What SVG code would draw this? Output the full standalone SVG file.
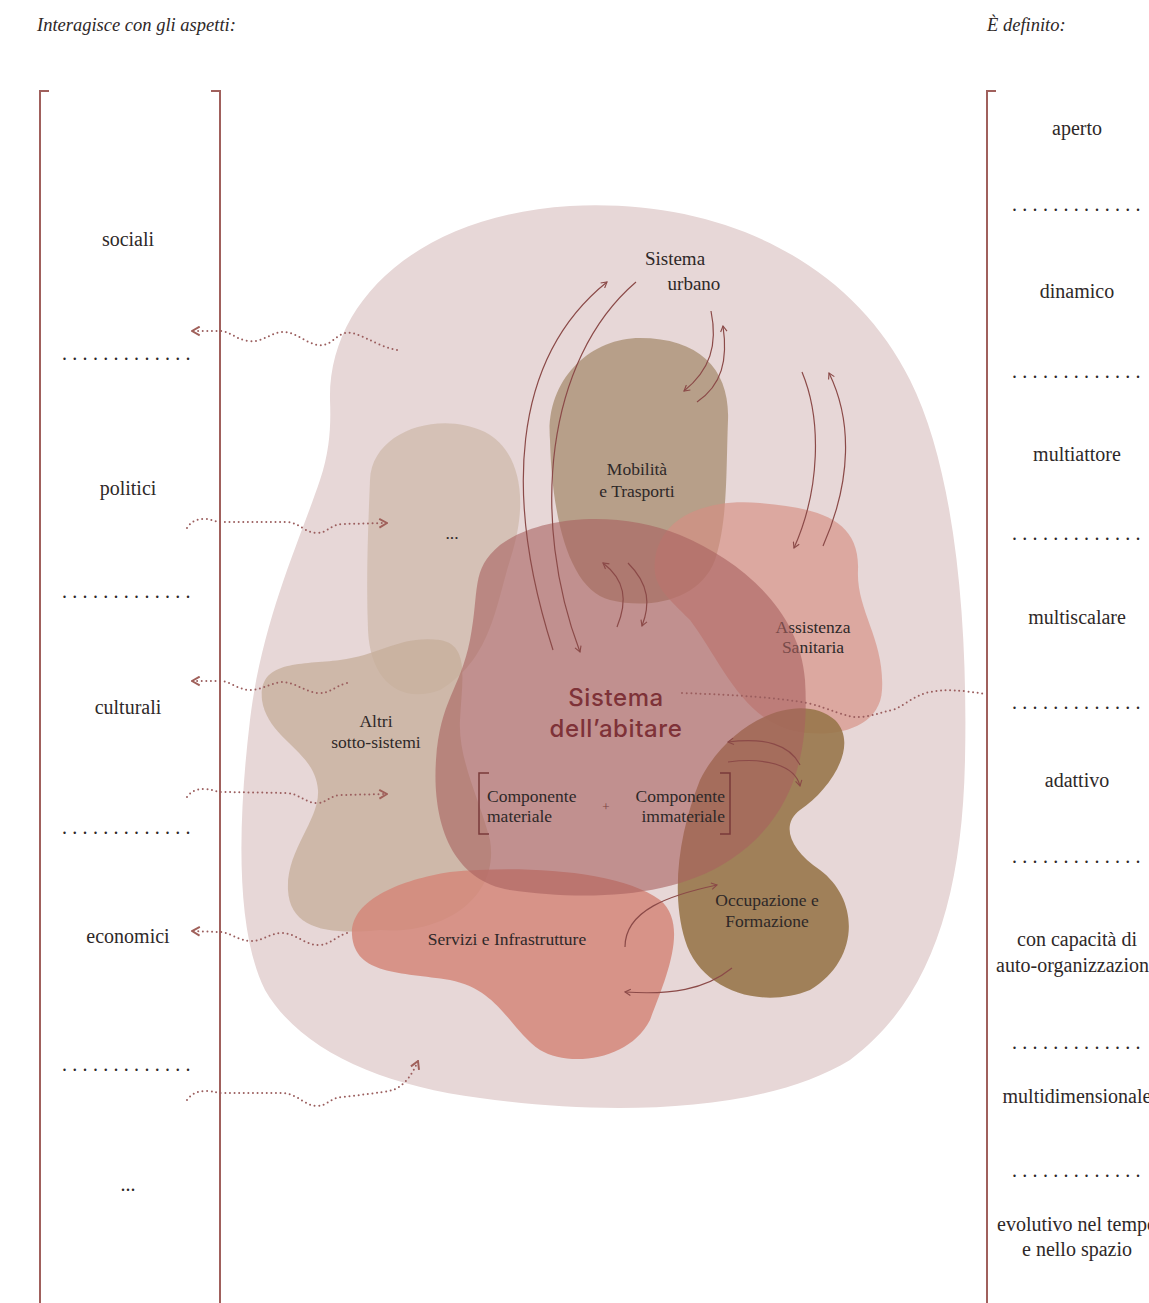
<svg xmlns="http://www.w3.org/2000/svg" width="1149" height="1303" viewBox="0 0 1149 1303">
<style>
.t{font-family:"Liberation Serif","DejaVu Serif",serif;fill:#2e2828}
.col{font-size:20px;text-anchor:middle}
.dots{font-size:20px;letter-spacing:5.3px}
.hd{font-size:18.5px;font-style:italic}
.nl{font-size:17.5px;text-anchor:middle}
.main{font-family:Inter,"Noto Sans",sans-serif;font-size:24px;font-weight:500;fill:#7e3238;text-anchor:middle;letter-spacing:0.6px}
.br{fill:none;stroke:#a0605c;stroke-width:2}
.ib{fill:none;stroke:#7a3a3a;stroke-width:1.5}
.sa{fill:none;stroke:#8b4a48;stroke-width:1.2;marker-end:url(#ah)}
.da{fill:none;stroke:#9b5e5e;stroke-width:2;stroke-dasharray:0 4.6;stroke-linecap:round}
</style>
<defs>
<marker id="ah" viewBox="0 0 10 10" refX="9" refY="5" markerWidth="8" markerHeight="8" markerUnits="userSpaceOnUse" orient="auto">
<path d="M2,1 L9,5 L2,9" fill="none" stroke="#8b4a48" stroke-width="1.4"/>
</marker>
<marker id="dh" viewBox="0 0 10 10" refX="9" refY="5" markerWidth="11" markerHeight="11" markerUnits="userSpaceOnUse" orient="auto">
<path d="M2,1 L9,5 L2,9" fill="none" stroke="#a0605a" stroke-width="1.8"/>
</marker>
</defs>
<rect width="1149" height="1303" fill="#ffffff"/>

<g id="headers">
<text class="t hd" x="37" y="31">Interagisce con gli aspetti:</text>
<text class="t hd" x="987" y="31">È definito:</text>
</g>

<g id="brackets">
<path class="br" d="M49,91 L40,91 L40,1303"/>
<path class="br" d="M211,91 L220,91 L220,1303"/>
<path class="br" d="M996,91 L987,91 L987,1303"/>
</g>

<g id="left-column">
<text class="t col" x="128" y="246">sociali</text>
<text class="t dots" x="62" y="360">.............</text>
<text class="t col" x="128" y="495">politici</text>
<text class="t dots" x="62" y="598">.............</text>
<text class="t col" x="128" y="714">culturali</text>
<text class="t dots" x="62" y="834">.............</text>
<text class="t col" x="128" y="943">economici</text>
<text class="t dots" x="62" y="1071">.............</text>
<text class="t col" x="128" y="1191">...</text>
</g>

<g id="right-column">
<text class="t col" x="1077" y="135">aperto</text>
<text class="t dots" x="1012" y="211">.............</text>
<text class="t col" x="1077" y="298">dinamico</text>
<text class="t dots" x="1012" y="378">.............</text>
<text class="t col" x="1077" y="461">multiattore</text>
<text class="t dots" x="1012" y="540">.............</text>
<text class="t col" x="1077" y="624">multiscalare</text>
<text class="t dots" x="1012" y="709">.............</text>
<text class="t col" x="1077" y="787">adattivo</text>
<text class="t dots" x="1012" y="863">.............</text>
<text class="t col" x="1077" y="946">con capacità di</text>
<text class="t col" x="1077" y="972">auto-organizzazione</text>
<text class="t dots" x="1012" y="1049">.............</text>
<text class="t col" x="1077" y="1103">multidimensionale</text>
<text class="t dots" x="1012" y="1177">.............</text>
<text class="t col" x="1077" y="1231">evolutivo nel tempo</text>
<text class="t col" x="1077" y="1256">e nello spazio</text>
</g>

<g id="sistema-urbano">
<path d="M330,400 C328,300 420,215 570,206 C720,198 850,260 910,380 C955,470 968,620 965,760 C962,900 930,1000 850,1060 C760,1115 600,1115 480,1098 C380,1085 300,1050 265,990 C235,930 238,820 250,720 C262,620 300,540 320,480 C330,450 331,425 330,400 Z" fill="#e7d7d7"/>
<text class="t nl" x="675" y="265" style="font-size:19px">Sistema</text>
<text class="t nl" x="694" y="290" style="font-size:19px">urbano</text>
</g>

<g id="altro">
<path d="M370,480 C372,430 440,410 485,432 C520,450 530,500 510,560 C495,610 490,660 440,690 C400,705 370,680 368,630 C366,580 368,530 370,480 Z" fill="#cdb8a8" fill-opacity="0.7"/>
<text class="t nl" x="452" y="539">...</text>
</g>

<g id="altri-sotto-sistemi">
<path d="M262,700 C258,660 300,665 340,660 C380,655 400,635 440,640 C470,645 462,680 460,720 C458,760 480,800 490,840 C500,900 440,935 380,930 C330,935 290,930 288,890 C286,850 320,820 318,790 C315,750 268,740 262,700 Z" fill="#c6ae9a" fill-opacity="0.75"/>
<text class="t nl" x="376" y="727">Altri</text>
<text class="t nl" x="376" y="748">sotto-sistemi</text>
</g>

<g id="mobilita">
<path d="M550,440 C545,380 590,338 640,338 C700,338 730,370 728,420 C726,470 728,520 715,560 C700,600 650,610 610,600 C570,590 552,520 550,440 Z" fill="#b49c85" fill-opacity="0.95"/>
<text class="t nl" x="637" y="475">Mobilità</text>
<text class="t nl" x="637" y="497">e Trasporti</text>
</g>

<g id="assistenza">
<path d="M655,560 C660,515 710,498 760,503 C820,508 860,520 858,570 C856,610 885,640 882,690 C880,730 830,740 790,730 C740,715 720,660 690,620 C665,595 652,585 655,560 Z" fill="#d68f82" fill-opacity="0.65"/>
<text class="t nl" x="813" y="633">Assistenza</text>
<text class="t nl" x="813" y="653">Sanitaria</text>
</g>

<g id="occupazione">
<path d="M700,780 C730,720 800,690 835,720 C860,745 830,790 800,810 C780,825 790,850 820,870 C860,900 860,960 810,990 C760,1010 700,990 685,940 C670,890 680,830 700,780 Z" fill="#967448" fill-opacity="0.88"/>
<text class="t nl" x="767" y="906">Occupazione e</text>
<text class="t nl" x="767" y="927">Formazione</text>
</g>

<g id="servizi">
<path d="M352,935 C350,900 400,880 450,872 C520,865 620,870 660,900 C690,925 665,980 650,1020 C630,1060 570,1068 540,1050 C510,1030 500,990 450,980 C400,972 355,975 352,935 Z" fill="#d3877a" fill-opacity="0.85"/>
<text class="t nl" x="507" y="945">Servizi e Infrastrutture</text>
</g>

<g id="sistema-abitare">
<path d="M500,545 C540,515 620,510 680,535 C740,560 800,610 805,680 C810,760 790,820 730,860 C670,900 580,900 510,890 C450,880 432,820 436,760 C440,700 460,690 470,640 C480,590 470,570 500,545 Z" fill="#a8605f" fill-opacity="0.6"/>
<text class="main" x="616" y="706">Sistema</text>
<text class="main" x="616" y="737">dell’abitare</text>
<path class="ib" d="M489,773 L479,773 L479,834 L489,834"/>
<path class="ib" d="M720,773 L730,773 L730,834 L720,834"/>
<text class="t" x="487" y="802" style="font-size:17.5px">Componente</text>
<text class="t" x="487" y="822" style="font-size:17.5px">materiale</text>
<text class="t" x="606" y="811" style="font-size:13px;text-anchor:middle;fill:#7a4040">+</text>
<text class="t" x="725" y="802" style="font-size:17.5px;text-anchor:end">Componente</text>
<text class="t" x="725" y="822" style="font-size:17.5px;text-anchor:end">immateriale</text>
</g>

<g id="connectors">
<path class="sa" d="M553,650 C505,500 510,360 607,282"/>
<path class="sa" d="M636,282 C545,360 530,520 580,652"/>
<path class="sa" d="M711,311 C718,345 710,370 684,391"/>
<path class="sa" d="M697,402 C722,385 728,360 723,326"/>
<path class="sa" d="M802,372 C822,420 820,490 794,548"/>
<path class="sa" d="M823,546 C852,480 852,420 829,373"/>
<path class="sa" d="M617,627 C628,600 625,580 603,563"/>
<path class="sa" d="M628,563 C650,585 650,605 642,626"/>
<path class="sa" d="M800,765 C790,745 765,737 728,742"/>
<path class="sa" d="M728,762 C765,757 795,765 800,786"/>
<path class="sa" d="M625,947 C625,910 670,895 717,885"/>
<path class="sa" d="M732,968 C705,990 670,995 625,992"/>

<path class="da" marker-end="url(#dh)" d="M397,350 C375,346 357,330 345,333 C335,336 330,347 318,345 C305,343 295,331 282,332 C270,333 262,343 248,341 C235,339 230,331 220,331 L192,331"/>
<path class="da" marker-end="url(#dh)" d="M187,528 C192,520 198,519 205,519 C212,519 215,522 222,522 L287,522 C300,523 305,533 317,533 C327,533 330,525 342,524 L387,523"/>
<path class="da" marker-end="url(#dh)" d="M347,683 C335,686 330,694 318,693 C305,692 295,682 282,682 C270,683 262,690 250,690 C238,690 230,681 220,681 L192,681"/>
<path class="da" marker-end="url(#dh)" d="M187,797 C192,790 198,789 205,789 C212,789 215,792 222,792 L287,793 C300,794 305,803 317,803 C327,803 330,795 342,795 L387,794"/>
<path class="da" marker-end="url(#dh)" d="M347,933 C335,937 330,945 318,945 C305,945 295,933 282,933 C270,933 262,941 252,941 C238,941 230,932 220,932 L192,931"/>
<path class="da" marker-end="url(#dh)" d="M187,1100 C192,1093 198,1091 207,1091 C213,1091 216,1093 222,1093 L283,1093 C298,1094 305,1106 317,1106 C327,1106 330,1098 342,1097 C360,1095 380,1093 393,1090 C405,1085 412,1075 418,1061"/>
<path class="da" d="M682,693 C740,695 780,698 807,703 C830,708 845,718 860,717 C875,716 880,712 893,710 C905,705 915,695 930,692 C945,689 960,690 985,694"/>
</g>
</svg>
